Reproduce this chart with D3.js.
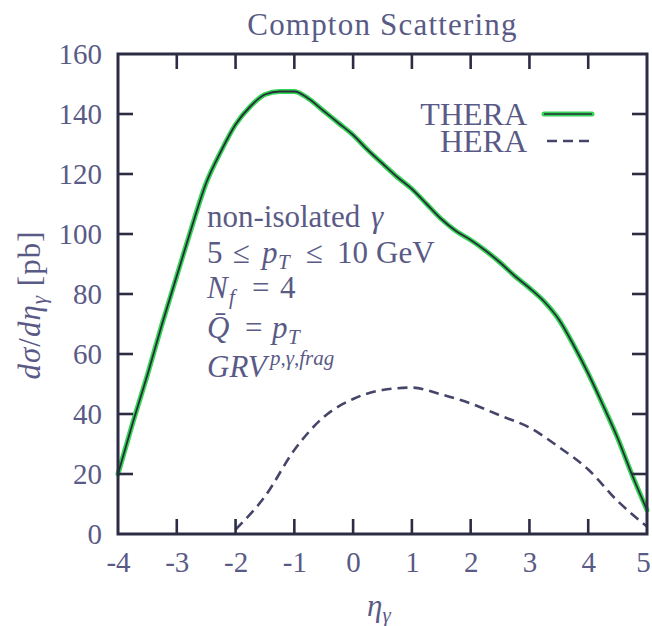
<!DOCTYPE html>
<html>
<head>
<meta charset="utf-8">
<script src="https://cdn.jsdelivr.net/npm/d3@7"></script>
<style>
  html, body { margin: 0; padding: 0; background: #ffffff; }
  svg { display: block; }
</style>
</head>
<body>
<svg id="chart" width="652" height="626"></svg>
<script>
// Pseudorapidity grid and cross sections (pb) for the two colliders
const theraEta = [-4, -3.75, -3.5, -3.25, -3, -2.75, -2.5, -2.25, -2, -1.75, -1.5, -1.25, -1,
                  -0.75, -0.5, -0.25, 0, 0.25, 0.5, 0.75, 1, 1.25, 1.5, 1.75, 2, 2.25, 2.5,
                  2.75, 3, 3.25, 3.5, 3.75, 4, 4.25, 4.5, 4.75, 5];
const theraXsec = [20, 37, 53, 70, 86, 102, 117, 127.5, 136.5, 142.5, 146.5, 147.5, 147.5,
                   145, 141, 137, 133, 128, 123.5, 119, 115, 110, 105, 101, 98, 94.5, 90.5,
                   86, 82, 77.5, 71.5, 63, 53.5, 43, 32, 19.5, 8];

const heraEta = [-2, -1.5, -1, -0.5, 0, 0.5, 1, 1.5, 2, 2.5, 3, 3.5, 4, 4.5, 5];
const heraXsec = [1.5, 12.5, 28, 39, 45, 48, 48.8, 46.5, 43.5, 39.5, 35.5, 29, 21.5, 11, 2.5];

const xTicks = [-4, -3, -2, -1, 0, 1, 2, 3, 4, 5];
const yTicks = [0, 20, 40, 60, 80, 100, 120, 140, 160];

const legendLabels = ["THERA", "HERA"];

const svg = d3.select("#chart");
const plotL = 118, plotR = 647, plotT = 54, plotB = 534;

const x = d3.scaleLinear().domain([-4, 5]).range([plotL, plotR]);
const y = d3.scaleLinear().domain([0, 160]).range([plotB, plotT]);

const frameColor = "#2c2c44";
const textColor = "#5a5a86";
const green = "#33d653";
const tickLen = 15;
const serif = "'Liberation Serif', 'Times New Roman', serif";

// Curves first so the frame sits on top
const line = d3.line().x(d => x(d[0])).y(d => y(d[1])).curve(d3.curveMonotoneX);
const thera = theraEta.map((e, i) => [e, theraXsec[i]]);
const hera = heraEta.map((e, i) => [e, heraXsec[i]]);

const plot = svg.append("g");
plot.append("path").datum(thera).attr("d", line)
  .attr("fill", "none").attr("stroke", green).attr("stroke-width", 5)
  .attr("stroke-linejoin", "round").attr("stroke-linecap", "round");
plot.append("path").datum(thera).attr("d", line)
  .attr("fill", "none").attr("stroke", "#2b2b3c").attr("stroke-width", 1.8)
  .attr("stroke-linejoin", "round");
plot.append("path").datum(hera).attr("d", line)
  .attr("fill", "none").attr("stroke", "#45456a").attr("stroke-width", 2.6)
  .attr("stroke-dasharray", "10,6");

// Axes: bottom/left carry labels, top/right only ticks; all ticks point inward
const axB = d3.axisBottom(x).tickValues(xTicks).tickSize(0).tickPadding(0)
  .tickFormat(d => d);
const axL = d3.axisLeft(y).tickValues(yTicks).tickSize(0).tickPadding(0);

const gB = svg.append("g").attr("transform", `translate(0,${plotB})`).call(axB);
const gL = svg.append("g").attr("transform", `translate(${plotL},0)`).call(axL);
[gB, gL].forEach(g => g.attr("font-family", null).select(".domain").remove());

gB.selectAll(".tick text")
  .attr("y", 38).attr("dy", null)
  .attr("font-size", 29).attr("fill", textColor)
  .attr("x", d => d === 5 ? -4 : 0);
gL.selectAll(".tick text")
  .attr("x", -16).attr("dy", "0.34em")
  .attr("font-size", 29).attr("fill", textColor);

const ticks = svg.append("g").attr("stroke", frameColor).attr("stroke-width", 2.6);
xTicks.slice(1, -1).forEach(v => {
  ticks.append("line").attr("x1", x(v)).attr("x2", x(v)).attr("y1", plotB).attr("y2", plotB - tickLen);
  ticks.append("line").attr("x1", x(v)).attr("x2", x(v)).attr("y1", plotT).attr("y2", plotT + tickLen);
});
yTicks.slice(1, -1).forEach(v => {
  ticks.append("line").attr("x1", plotL).attr("x2", plotL + tickLen).attr("y1", y(v)).attr("y2", y(v));
  ticks.append("line").attr("x1", plotR).attr("x2", plotR - tickLen).attr("y1", y(v)).attr("y2", y(v));
});

svg.append("rect")
  .attr("x", plotL).attr("y", plotT).attr("width", plotR - plotL).attr("height", plotB - plotT)
  .attr("fill", "none").attr("stroke", frameColor).attr("stroke-width", 3);

// Title, centred over the plot
svg.append("text").attr("x", (plotL + plotR) / 2).attr("y", 35).attr("text-anchor", "middle")
  .attr("font-size", 31).attr("letter-spacing", 1.2).attr("fill", textColor)
  .text("Compton Scattering");

// Axis titles
const yl = svg.append("text")
  .attr("transform", `translate(40,305) rotate(-90)`)
  .attr("text-anchor", "middle").attr("font-size", 31).attr("fill", textColor)
  .attr("letter-spacing", 1);
yl.append("tspan").attr("font-style", "italic").text("dσ");
yl.append("tspan").text("/");
yl.append("tspan").attr("font-style", "italic").text("dη");
yl.append("tspan").attr("font-style", "italic").attr("font-size", 21).attr("dy", 6).text("γ");
yl.append("tspan").attr("dy", -6).text(" [pb]");

const xl = svg.append("text").attr("x", 367).attr("y", 616)
  .attr("font-size", 31).attr("fill", textColor).attr("font-style", "italic");
xl.append("tspan").text("η");
xl.append("tspan").attr("font-size", 21).attr("dy", 6).text("γ");

// Legend
const legendY = [125, 152];
legendLabels.forEach((lab, i) => {
  svg.append("text").attr("x", 527).attr("y", legendY[i]).attr("text-anchor", "end")
    .attr("font-size", 32).attr("fill", textColor).text(lab);
});
svg.append("line").attr("x1", 544).attr("x2", 592).attr("y1", 114).attr("y2", 114)
  .attr("stroke", green).attr("stroke-width", 5).attr("stroke-linecap", "round");
svg.append("line").attr("x1", 544).attr("x2", 592).attr("y1", 114).attr("y2", 114)
  .attr("stroke", "#2b2b3c").attr("stroke-width", 1.5);
svg.append("line").attr("x1", 547).attr("x2", 590).attr("y1", 141).attr("y2", 141)
  .attr("stroke", "#45456a").attr("stroke-width", 2.6).attr("stroke-dasharray", "10,6");

// Annotation block, typeset piece by piece
const annSize = 31, subSize = 21;
function ann(yBase) {
  return svg.append("text").attr("y", yBase).attr("font-size", annSize).attr("fill", textColor);
}
function piece(t, xPos, str, opts = {}) {
  const s = t.append("tspan").attr("x", xPos).text(str);
  if (opts.italic) s.attr("font-style", "italic");
  if (opts.size) s.attr("font-size", opts.size);
  s.attr("y", +t.attr("y") + (opts.dy || 0));
  return s;
}

let t = ann(227);
piece(t, 207, "non-isolated");
piece(t, 371, "γ", { italic: true });

t = ann(263);
piece(t, 207, "5");
piece(t, 233, "≤");
piece(t, 262, "p", { italic: true });
piece(t, 278, "T", { italic: true, size: subSize, dy: 6 });
piece(t, 306, "≤");
piece(t, 337, "10");
piece(t, 376, "GeV");

t = ann(298);
piece(t, 207, "N", { italic: true });
piece(t, 229, "f", { italic: true, size: subSize, dy: 6 });
piece(t, 252, "=");
piece(t, 280, "4");

t = ann(338);
piece(t, 207, "Q̄", { italic: true });
piece(t, 245, "=");
piece(t, 272, "p", { italic: true });
piece(t, 288, "T", { italic: true, size: subSize, dy: 6 });

t = ann(377);
piece(t, 207, "GRV", { italic: true });
piece(t, 270, "p,γ,frag", { italic: true, size: subSize, dy: -12 });

// One serif face for every label
svg.selectAll("text").style("font-family", serif);
</script>
</body>
</html>
